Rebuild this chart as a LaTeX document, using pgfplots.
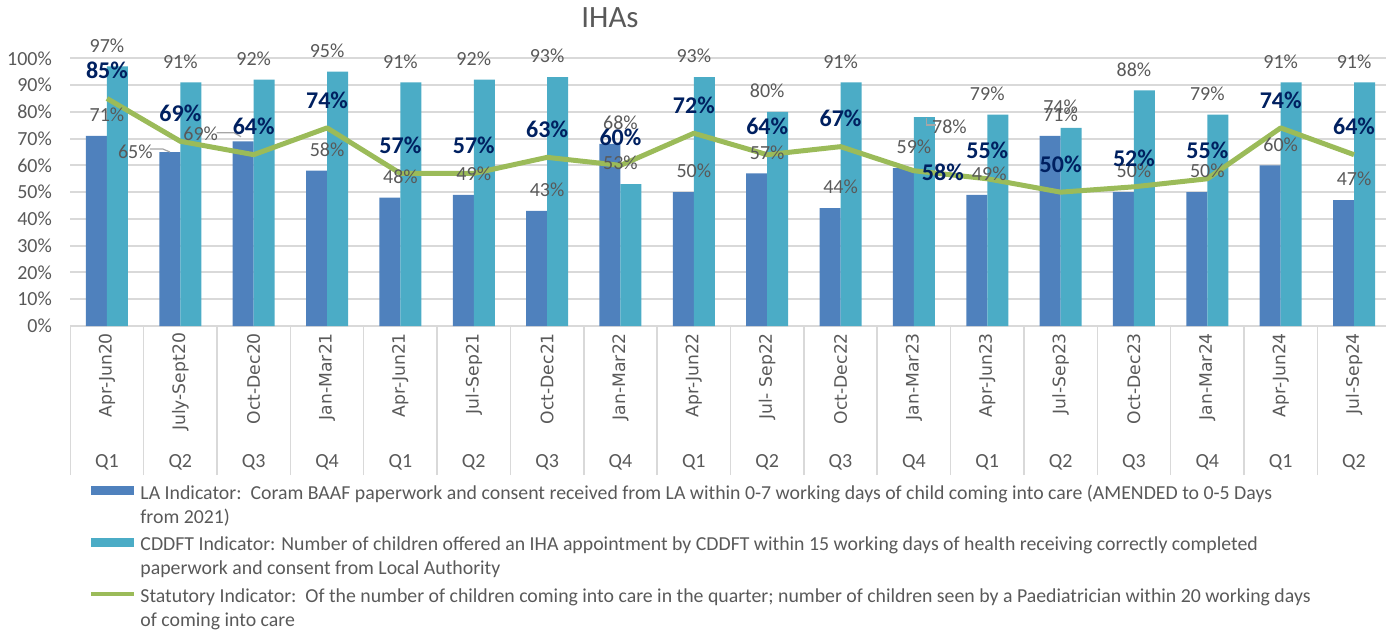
\documentclass[border=0pt]{standalone}
\usepackage{pgfplots}
\pgfplotsset{compat=1.18}
\usepackage{pgfplotstable}
\usepackage{fontspec}
\setmainfont{Carlito}
\newfontfamily\dejavu{DejaVu Sans}

\definecolor{labar}{RGB}{79,129,189}
\definecolor{cdbar}{RGB}{75,172,198}
\definecolor{statline}{RGB}{155,187,89}
\definecolor{navy}{RGB}{0,32,96}
\definecolor{txtgray}{RGB}{89,89,89}
\definecolor{gridc}{RGB}{217,217,217}
\definecolor{leadc}{RGB}{166,166,166}

% la = LA indicator, cd = CDDFT indicator, st = statutory indicator
% *dx / *dy = label offsets (pt)
\pgfplotstableread{
x  la cd st ladx  lady cdx  cdy  stx  sty
0  71 97 85 0     10.5 0    10.5 0    14
1  65 91 69 -22.5 0    0    10.5 0    14
2  69 92 64 -26.5 4    0    10.5 0    14
3  58 95 74 0     10.5 0    10.5 0    14
4  48 91 57 0     10.5 0    10.5 0    14
5  49 92 57 0     10.5 0    10.5 0    14
6  43 93 63 0     10.5 0    10.5 0    14
7  68 53 60 0     10.5 0    10.5 0    14
8  50 93 72 0     10.5 0    10.5 0    14
9  57 80 64 0     10.5 0    10.5 0    14
10 44 91 67 0     10.5 0    10.5 0    14
11 59 78 58 0     10.5 17.8 -5   14.5 -1
12 49 79 55 1     10.5 0    10.5 0    14
13 71 74 50 0     10.5 0    10.5 0    14
14 50 88 52 0     10.5 0    10.5 0    14
15 50 79 55 0     10.5 0    10.5 0    14
16 60 91 74 0     10.5 0    10.5 0    14
17 47 91 64 0     10.5 0    10.5 0    14
}\ihadata

\begin{document}
\begin{tikzpicture}
\useasboundingbox (-35.15pt,-154pt) rectangle (657.85pt,163pt);
\begin{axis}[
    at={(0pt,0pt)}, anchor=south west,
    scale only axis,
    width=660.2pt, height=133.85pt,
    xmin=-0.5, xmax=17.5, ymin=0, ymax=100,
    clip=false,
    axis line style={draw=none},
    tick align=outside, tick pos=left,
    major tick length=0pt,
    xtick={0,...,17},
    xticklabels={Apr-Jun20,July-Sept20,Oct-Dec20,Jan-Mar21,Apr-Jun21,Jul-Sep21,Oct-Dec21,Jan-Mar22,Apr-Jun22,Jul- Sep22,Oct-Dec22,Jan-Mar23,Apr-Jun23,Jul-Sep23,Oct-Dec23,Jan-Mar24,Apr-Jun24,Jul-Sep24},
    extra x ticks={-0.5,0.5,...,17.5},
    extra x tick labels={},
    extra x tick style={major tick length=74.5pt, tick style={draw=gridc, line width=0.75pt}},
    ytick={0,10,...,100},
    yticklabel={\pgfmathparse{int(\tick)}\pgfmathresult\%},
    ymajorgrids,
    grid style={draw=gridc, line width=1pt},
    /pgf/number format/assume math mode=true,
    tick label style={font=\fontsize{10}{12}\selectfont, text=txtgray},
    xticklabel style={rotate=90, anchor=east, font=\dejavu\fontsize{8.6}{10}\selectfont},
    yticklabel style={xshift=-5.7pt},
    legend cell align=left,
    legend style={
        at={(axis description cs:0.0142,-0.576)}, anchor=north west,
        draw=none, fill=none, inner sep=0pt,
        font=\fontsize{9.9}{12}\selectfont, text=txtgray,
        row sep=1.5pt,
        cells={align=left},
    },
]

\addplot[ybar, bar width=10.5pt, bar shift=-5.25pt, fill=labar, draw=none,
    nodes near coords={\pgfmathprintnumber{\pgfplotspointmeta}\%},
    visualization depends on={\thisrow{ladx} \as \ldx},
    visualization depends on={\thisrow{lady} \as \ldy},
    every node near coord/.append style={font=\fontsize{10}{12}\selectfont, text=txtgray,
        anchor=center, xshift=\ldx pt, yshift=\ldy pt},
    legend image code/.code={\fill[labar] (0pt,5.25pt) rectangle (21.5pt,9.75pt);},
] table[x=x, y=la] {\ihadata};
\addlegendentry{LA Indicator:\ \ Coram BAAF paperwork and consent received from LA within 0-7 working days of child coming into care (AMENDED to 0-5 Days\\from 2021)}

\addplot[ybar, bar width=10.5pt, bar shift=5.25pt, fill=cdbar, draw=none,
    nodes near coords={\pgfmathprintnumber{\pgfplotspointmeta}\%},
    visualization depends on={\thisrow{cdx} \as \cdx},
    visualization depends on={\thisrow{cdy} \as \cdy},
    every node near coord/.append style={font=\fontsize{10}{12}\selectfont, text=txtgray,
        anchor=center, xshift=\cdx pt, yshift=\cdy pt},
    legend image code/.code={\fill[cdbar] (0pt,5.25pt) rectangle (21.5pt,9.75pt);},
] table[x=x, y=cd] {\ihadata};
\addlegendentry{CDDFT Indicator: Number of children offered an IHA appointment by CDDFT within 15 working days of health receiving correctly completed\\paperwork and consent from Local Authority}

\addplot[draw=statline, line width=2.5pt, line join=round, mark=none,
    nodes near coords={\pgfmathprintnumber{\pgfplotspointmeta}\%},
    visualization depends on={\thisrow{stx} \as \sdx},
    visualization depends on={\thisrow{sty} \as \sdy},
    every node near coord/.append style={font=\bfseries\fontsize{12}{14}\selectfont, text=navy,
        anchor=center, xshift=\sdx pt, yshift=\sdy pt},
    legend image code/.code={\draw[statline, line width=2pt] (0pt,7.5pt) -- (21.5pt,7.5pt);},
] table[x=x, y=st] {\ihadata};
\addlegendentry{Statutory Indicator:\ \ Of the number of children coming into care in the quarter; number of children seen by a Paediatrician within 20 working days\\of coming into care}

% leader lines of moved labels
\draw[leadc, line width=0.6pt] (axis cs:0.586,66.1) -- (axis cs:0.763,66.1) -- (axis cs:0.859,65.0);
\draw[leadc, line width=0.6pt] (axis cs:1.493,72.2) -- (axis cs:1.731,72.2) -- (axis cs:1.827,70.7);
\draw[leadc, line width=0.6pt] (axis cs:11.174,77.6) -- (axis cs:11.174,75.1) -- (axis cs:11.295,75.1);

% quarter row of the category axis
\pgfplotsinvokeforeach{0,...,17}{
  \node[font=\fontsize{10}{12}\selectfont, text=txtgray] at (axis cs:#1,0) [yshift=-68pt]
    {Q\pgfmathparse{int(mod(#1,4)+1)}\pgfmathresult};
}
\end{axis}
\node[anchor=base, font=\fontsize{15.5}{18}\selectfont, text=txtgray] at (269.85pt,149.5pt) {IHAs};
\end{tikzpicture}
\end{document}
